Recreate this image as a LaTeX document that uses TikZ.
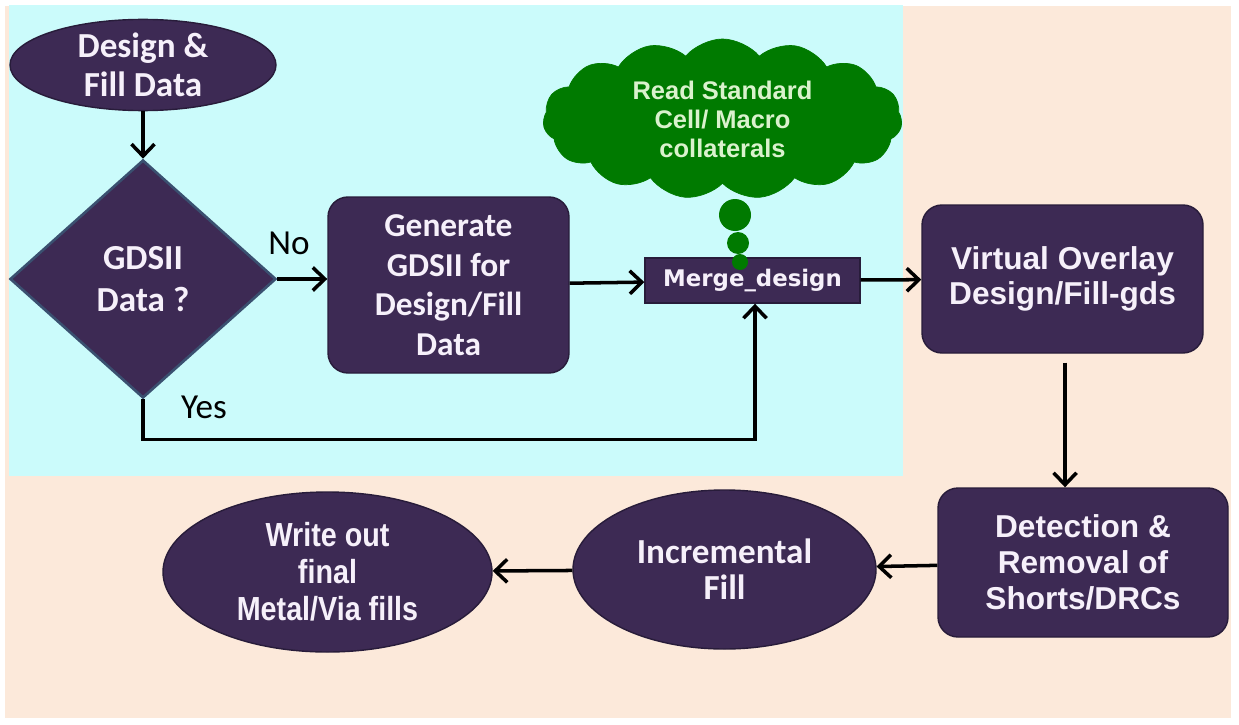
\documentclass[tikz,border=0pt]{standalone}
\usepackage{fontspec}
\setmainfont{Liberation Sans}
\newfontfamily\calfont{Carlito}
\newfontfamily\narrowfont[FakeStretch=0.86]{Liberation Sans}
\newfontfamily\verdfont{DejaVu Sans}
\usetikzlibrary{shapes.geometric,shapes.symbols,arrows.meta}
\definecolor{peachbg}{RGB}{252,233,218}
\definecolor{cyanbg}{RGB}{203,251,251}
\definecolor{boxpurple}{RGB}{61,42,84}
\definecolor{boxedge}{RGB}{40,28,58}
\definecolor{diaedge}{RGB}{58,80,112}
\definecolor{boxtext}{RGB}{246,240,250}
\definecolor{cloudgreen}{RGB}{0,122,0}
\definecolor{cloudtext}{RGB}{218,242,205}

\begin{document}
\begin{tikzpicture}[
  flowbox/.style={draw=boxedge,fill=boxpurple,text=boxtext,align=center,inner sep=0pt,line width=0.8pt},
  roundbox/.style={flowbox,rectangle,rounded corners=0.4cm},
  oval/.style={flowbox,ellipse},
  arr/.style={-{Straight Barb[length=2.4mm,width=4.6mm]},line width=2pt}]
\useasboundingbox (0,0) rectangle (24.78,14.48);
% backgrounds
\fill[peachbg] (0.1,0.12) rectangle (24.62,14.36);
\fill[cyanbg] (0.18,4.96) rectangle (18.06,14.38);

% upper row
\node[oval,minimum width=5.32cm,minimum height=1.6cm,font=\calfont\bfseries\fontsize{20}{22.5}\selectfont] (start) at (2.86,13.18) {Design \&\\Fill Data};
\node[diamond,flowbox,draw=diaedge,line width=1.5pt,minimum width=5.32cm,minimum height=4.76cm,font=\calfont\bfseries\fontsize{20}{24}\selectfont] (dia) at (2.86,8.90) {GDSII\\Data ?};
\node[roundbox,minimum width=4.82cm,minimum height=3.52cm,font=\calfont\bfseries\fontsize{19}{22.5}\selectfont] (gen) at (8.97,8.78) {Generate\\GDSII for\\Design/Fill\\Data};
\node[cloud,cloud puffs=15,cloud puff arc=100,cloud ignores aspect,fill=cloudgreen,draw=cloudgreen,text=cloudtext,align=center,inner sep=0pt,minimum width=7.18cm,minimum height=3.2cm,font=\bfseries\fontsize{14.5}{16.5}\selectfont] (cloud) at (14.45,12.1) {Read Standard\\Cell/ Macro\\collaterals};
\node[flowbox,rectangle,minimum width=4.3cm,minimum height=0.9cm,font=\verdfont\bfseries\fontsize{13}{15}\selectfont] (merge) at (15.05,8.87) {Merge\_design};
\fill[cloudgreen] (14.70,10.18) circle (0.32) (14.76,9.62) circle (0.22) (14.80,9.24) circle (0.16);
\node[roundbox,minimum width=5.62cm,minimum height=2.96cm,font=\bfseries\fontsize{18}{20}\selectfont] (virt) at (21.25,8.90) {Virtual Overlay\\Design/Fill-gds};

% lower row
\node[roundbox,minimum width=5.8cm,minimum height=2.98cm,font=\bfseries\fontsize{18}{20.5}\selectfont] (detect) at (21.66,3.23) {Detection \&\\Removal of\\Shorts/DRCs};
\node[oval,minimum width=6.06cm,minimum height=3.18cm,font=\calfont\bfseries\fontsize{20}{20.5}\selectfont] (incr) at (14.49,3.09) {Incremental\\Fill};
\node[oval,minimum width=6.58cm,minimum height=3.2cm,font=\narrowfont\bfseries\fontsize{19}{21}\selectfont] (write) at (6.55,3.04) {Write out\\final\\Metal/Via fills};

% branch labels
\node[font=\calfont\fontsize{20}{24}\selectfont] (nolbl) at (5.78,9.62) {No};
\node[font=\calfont\fontsize{20}{24}\selectfont] (yeslbl) at (4.08,6.34) {Yes};

% connectors
\draw[arr] (start) -- (dia);
\draw[arr] (dia.east) -- (dia.east -| gen.west);
\draw[arr] (gen) -- (merge);
\draw[arr] (dia.south) -- ++(0,-0.8) -| ([xshift=0.05cm]merge.south);
\draw[arr] (merge) -- (virt);
\draw[arr] ([xshift=0.05cm,yshift=-0.18cm]virt.south) -- ([xshift=0.05cm]virt.south |- detect.north);
\draw[arr] (detect) -- (incr);
\draw[arr] (incr) -- (write);
\end{tikzpicture}
\end{document}
